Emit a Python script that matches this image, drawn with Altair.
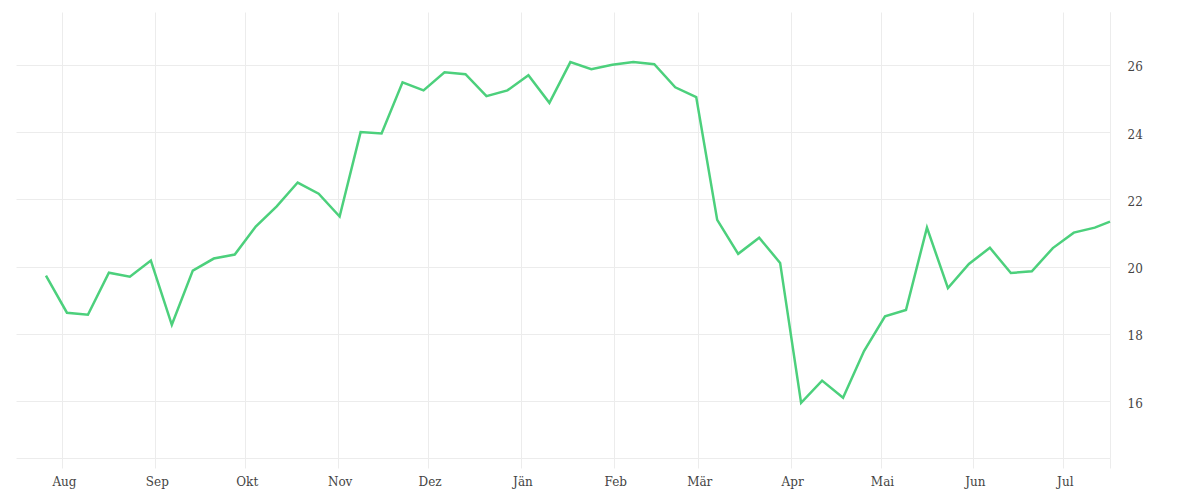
import altair as alt
import pandas as pd

dates = [
    "2022-07-26T12:00", "2022-08-02T12:00", "2022-08-09T12:00", "2022-08-16T12:00",
    "2022-08-23T12:00", "2022-08-30T12:00", "2022-09-06T12:00", "2022-09-13T12:00",
    "2022-09-20T12:00", "2022-09-27T12:00", "2022-10-04T12:00", "2022-10-11T12:00",
    "2022-10-18T12:00", "2022-10-25T12:00", "2022-11-01T12:00", "2022-11-08T12:00",
    "2022-11-15T12:00", "2022-11-22T12:00", "2022-11-29T12:00", "2022-12-06T12:00",
    "2022-12-13T12:00", "2022-12-20T12:00", "2022-12-27T12:00", "2023-01-03T12:00",
    "2023-01-10T12:00", "2023-01-17T12:00", "2023-01-24T12:00", "2023-01-31T12:00",
    "2023-02-07T12:00", "2023-02-14T12:00", "2023-02-21T12:00", "2023-02-28T12:00",
    "2023-03-07T12:00", "2023-03-14T12:00", "2023-03-21T12:00", "2023-03-28T12:00",
    "2023-04-04T12:00", "2023-04-11T12:00", "2023-04-18T12:00", "2023-04-25T12:00",
    "2023-05-02T12:00", "2023-05-09T12:00", "2023-05-16T12:00", "2023-05-23T12:00",
    "2023-05-30T12:00", "2023-06-06T12:00", "2023-06-13T12:00", "2023-06-20T12:00",
    "2023-06-27T12:00", "2023-07-04T12:00", "2023-07-11T12:00", "2023-07-16T14:00",
]

values = [
    19.73, 18.63, 18.57, 19.82, 19.70, 20.18, 18.27, 19.88, 20.24, 20.36,
    21.19, 21.79, 22.50, 22.17, 21.49, 24.00, 23.96, 25.48, 25.24, 25.78,
    25.72, 25.07, 25.24, 25.69, 24.87, 26.08, 25.87, 26.00, 26.08, 26.02,
    25.33, 25.04, 21.39, 20.38, 20.86, 20.11, 15.95, 16.61, 16.10, 17.49,
    18.52, 18.71, 21.16, 19.36, 20.08, 20.56, 19.81, 19.86, 20.55, 21.01,
    21.16, 21.34,
]

month_names = ["Jän", "Feb", "Mär", "Apr", "Mai", "Jun", "Jul", "Aug", "Sep", "Okt", "Nov", "Dez"]
y_ticks = [16, 18, 20, 22, 24, 26]

df = pd.DataFrame({"date": dates, "value": values})

tick_values = [alt.DateTime(year=2022, month=m, date=1) for m in range(8, 13)] + \
              [alt.DateTime(year=2023, month=m, date=1) for m in range(1, 8)] + \
              [alt.DateTime(year=2023, month=7, date=16, hours=14)]

names_js = "[" + ",".join("'" + n + "'" for n in month_names) + "]"
label_expr = "date(datum.value) == 1 ? " + names_js + "[month(datum.value)] : ''"

FONT = "DejaVu Serif"
GRID = "#ececec"

chart = alt.Chart(df).mark_line(color="#4cd07c", strokeWidth=2.5).encode(
    x=alt.X(
        "date:T",
        scale=alt.Scale(domain=[alt.DateTime(year=2022, month=7, date=16, hours=12),
                                alt.DateTime(year=2023, month=7, date=16, hours=14)]),
        axis=alt.Axis(
            title=None,
            values=tick_values,
            labelExpr=label_expr,
            grid=True,
            gridColor=GRID,
            domainColor=GRID,
            tickColor=GRID,
            tickSize=10,
            labelPadding=8,
            labelFont=FONT,
            labelFontSize=12,
            labelColor="#444444",
            labelBaseline="top",
            labelOffset=1.5,
        ),
    ),
    y=alt.Y(
        "value:Q",
        scale=alt.Scale(domain=[14.31, 27.57], nice=False, zero=False),
        axis=alt.Axis(
            title=None,
            orient="right",
            values=y_ticks,
            grid=True,
            gridColor=GRID,
            domainColor=GRID,
            ticks=False,
            tickSize=0,
            labelPadding=17,
            labelFont=FONT,
            labelFontSize=12,
            labelColor="#444444",
            labelOffset=2,
        ),
    ),
).properties(
    width=1094,
    height=446,
    padding={"left": 8, "top": 4, "right": 5, "bottom": 5},
    background="white",
).configure_view(strokeWidth=0)

chart.save("out.html", embed_options={"renderer": "svg", "actions": False})
